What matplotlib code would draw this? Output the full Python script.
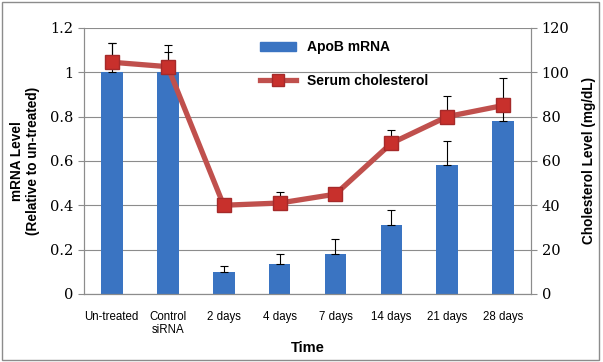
import matplotlib.pyplot as plt
from matplotlib.lines import Line2D
from matplotlib.patches import Patch, Rectangle

# datos
categorias = ["Un-treated", "Control\nsiRNA", "2 days", "4 days", "7 days",
              "14 days", "21 days", "28 days"]
mrna = [1.0, 1.0, 0.10, 0.135, 0.18, 0.31, 0.58, 0.78]
mrna_err = [0.13, 0.09, 0.025, 0.045, 0.066, 0.068, 0.108, 0.103]
colesterol = [104.5, 102.5, 40, 41, 45, 68, 80, 85]
colesterol_err = [8.5, 10.0, 0, 5, 3, 6, 9.5, 12.5]

x = list(range(len(categorias)))

fig = plt.figure(figsize=(6.03, 3.62), dpi=100)
ax = fig.add_axes([0.139, 0.188, 0.742, 0.735])
ax2 = ax.twinx()

azul = "#3A74C2"
rojo = "#C0504D"
gris = "#8C8C8C"

ax.bar(x, mrna, width=0.39, color=azul, zorder=2,
       yerr=[[0] * len(x), mrna_err], error_kw=dict(ecolor="black", lw=0.8, capsize=3, capthick=0.8))
ax.set_ylim(0, 1.2)
ax.set_yticks([0, 0.2, 0.4, 0.6, 0.8, 1.0, 1.2])
ax.set_yticklabels(["0", "0.2", "0.4", "0.6", "0.8", "1", "1.2"])
ax.set_xlim(-0.5, len(x) - 0.5)
ax.set_xticks(x)
ax.set_xticklabels(categorias, fontsize=8.3, family="Liberation Sans", linespacing=1.1)
ax.tick_params(axis="x", length=0, pad=12)
ax.grid(axis="y", color=gris, lw=0.8, zorder=0)
ax.set_axisbelow(True)

ax2.errorbar(x, colesterol, yerr=[[0] * len(x), colesterol_err], fmt="none",
             ecolor="black", elinewidth=0.8, capsize=3, capthick=0.8, zorder=3)
ax2.plot(x, colesterol, color=rojo, lw=3.8, marker="s", markersize=10,
         markerfacecolor="#C8302C", markeredgecolor="#A52A2A", zorder=4)
ax2.set_ylim(0, 120)
ax2.set_yticks(range(0, 121, 20))

for a in (ax, ax2):
    a.spines["top"].set_visible(False)
    for lado in ("left", "right", "bottom"):
        a.spines[lado].set_color(gris)
    a.tick_params(axis="y", colors=gris, length=4, labelcolor="black")
    for t in a.get_yticklabels():
        t.set_family("DejaVu Serif")
        t.set_fontsize(10.5)

ax.set_ylabel("mRNA Level\n(Relative to un-treated)", fontsize=9.8, fontweight="bold",
              family="Liberation Sans", labelpad=7)
ax2.set_ylabel("Cholesterol Level (mg/dL)", fontsize=9.8, fontweight="bold",
               family="Liberation Sans", labelpad=9)
ax.set_xlabel("Time", fontsize=10.5, fontweight="bold", family="Liberation Sans", labelpad=4)

handles = [Patch(color=azul),
           Line2D([0], [0], color=rojo, lw=3.8, marker="s", markersize=9,
                  markerfacecolor="#C8302C", markeredgecolor="#A52A2A")]
ax.legend(handles, ["ApoB mRNA", "Serum cholesterol"], loc="upper left",
          bbox_to_anchor=(0.365, 1.0), frameon=False, labelspacing=1.4,
          handlelength=2.6, prop=dict(family="Liberation Sans", weight="bold", size=10))

fig.patches.append(Rectangle((0.004, 0.006), 0.99, 0.988, transform=fig.transFigure,
                             fill=False, edgecolor=gris, lw=1))

fig.savefig("out.png", dpi=100)
